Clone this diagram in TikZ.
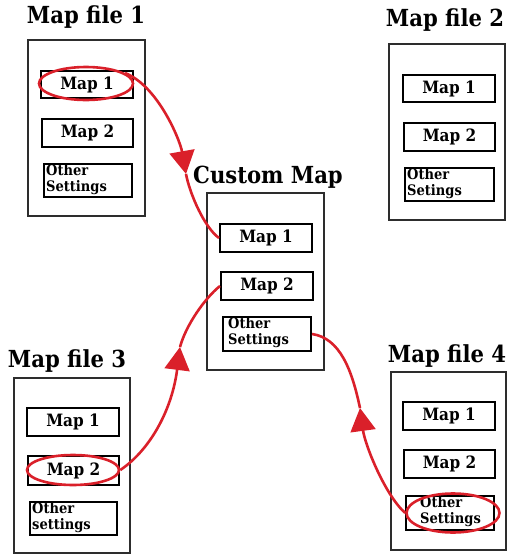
\documentclass[tikz,border=0pt]{standalone}
\usepackage{fontspec}
\setmainfont{DejaVu Serif Condensed}
\usetikzlibrary{shapes.geometric,arrows.meta}
\definecolor{linered}{RGB}{218,32,42}
\definecolor{boxgray}{RGB}{45,45,45}
\tikzset{
  outerbox/.style={draw=boxgray,line width=2pt,minimum width=#1,minimum height=176pt,inner sep=0pt},
  innerbox/.style={draw=black,line width=2pt,inner sep=0pt,font=\bfseries\fontsize{17}{18}\selectfont},
  otherbox/.style={draw=black,line width=2pt,inner sep=0pt,minimum width=88pt,minimum height=33pt},
  othertext/.style={anchor=north west,inner sep=0pt,align=left,font=\bfseries\fontsize{14.5}{15.5}\selectfont},
  titletext/.style={font=\bfseries\fontsize{23.5}{25}\selectfont,inner sep=0pt},
  hilite/.style={ellipse,draw=linered,line width=2.6pt,inner sep=0pt},
  redline/.style={draw=linered,line width=2.6pt},
  redarrow/.style={redline,-{Triangle[length=23pt,width=25pt]}}
}
\begin{document}
\begin{tikzpicture}[x=1pt,y=-1pt]
\useasboundingbox (0,0) rectangle (509,555);
% Map file 1
\node[titletext] (t1) at (86,17) {Map file 1};
\node[outerbox=117pt] (f1) at (86.5,128) {};
\node[innerbox,minimum width=92pt,minimum height=27pt] (f1a) at (87,84.5) {Map 1};
\node[innerbox,minimum width=91pt,minimum height=28pt] (f1b) at (87.5,133) {Map 2};
\node[otherbox] (f1c) at (88,180.5) {};
\node[othertext] (f1ct) at ([shift={(3,1.5)}]f1c.north west) {Other\\Settings};
\node[hilite,minimum width=94pt,minimum height=33pt] (e1) at (86,83.5) {};
% Map file 2
\node[titletext] (t2) at (445,20) {Map file 2};
\node[outerbox=116pt] (f2) at (447,132) {};
\node[innerbox,minimum width=92pt,minimum height=27pt] (f2a) at (449,88.5) {Map 1};
\node[innerbox,minimum width=91pt,minimum height=28pt] (f2b) at (449.5,137) {Map 2};
\node[otherbox,minimum width=89pt] (f2c) at (449.5,184.5) {};
\node[othertext] (f2ct) at ([shift={(3,1.5)}]f2c.north west) {Other\\Setings};
% Custom Map
\node[titletext] (tc) at (268,177) {Custom Map};
\node[outerbox=117pt,minimum height=177pt] (cm) at (265.5,281.5) {};
\node[innerbox,minimum width=92pt,minimum height=28pt] (cma) at (266,238) {Map 1};
\node[innerbox,minimum width=92pt,minimum height=28pt] (cmb) at (267,286) {Map 2};
\node[otherbox,minimum height=34pt] (cmc) at (267,334) {};
\node[othertext] (cmct) at ([shift={(6,1.5)}]cmc.north west) {Other\\Settings};
% Map file 3
\node[titletext] (t3) at (67,361) {Map file 3};
\node[outerbox=116pt,minimum height=175pt] (f3) at (72,465.5) {};
\node[innerbox,minimum width=92pt,minimum height=28pt] (f3a) at (73,422) {Map 1};
\node[innerbox,minimum width=91pt,minimum height=29pt] (f3b) at (73.5,470.5) {Map 2};
\node[otherbox,minimum width=87pt] (f3c) at (73.5,518.5) {};
\node[othertext] (f3ct) at ([shift={(3,1.5)}]f3c.north west) {Other\\settings};
\node[hilite,minimum width=92pt,minimum height=30pt] (e3) at (73,470) {};
% Map file 4
\node[titletext] (t4) at (447,356) {Map file 4};
\node[outerbox=115pt,minimum height=178pt] (f4) at (448.5,461) {};
\node[innerbox,minimum width=92pt,minimum height=28pt] (f4a) at (449,416) {Map 1};
\node[innerbox,minimum width=91pt,minimum height=28pt] (f4b) at (449.5,464) {Map 2};
\node[otherbox,minimum height=34pt] (f4c) at (450,513) {};
\node[othertext] (f4ct) at ([shift={(15,1.5)}]f4c.north west) {Other\\Settings};
\node[hilite,minimum width=93pt,minimum height=39pt] (e4) at (453,513) {};
% connectors
\coordinate (p1) at (186,174);
\coordinate (p2) at (180,347);
\coordinate (p3) at (360,408);
\draw[redarrow] (e1.15) .. controls (158,86) and (180,140) .. (p1);
\draw[redline] (p1) .. controls (190,195) and (205,228) .. (cma.west);
\draw[redarrow] (e3.east) .. controls (150,450) and (172,410) .. (p2);
\draw[redline] (p2) .. controls (186,325) and (205,298) .. (cmb.west);
\draw[redarrow] (e4.west) .. controls (385,495) and (365,445) .. (p3);
\draw[redline] (p3) .. controls (352,370) and (340,338) .. (cmc.east);
\end{tikzpicture}
\end{document}
